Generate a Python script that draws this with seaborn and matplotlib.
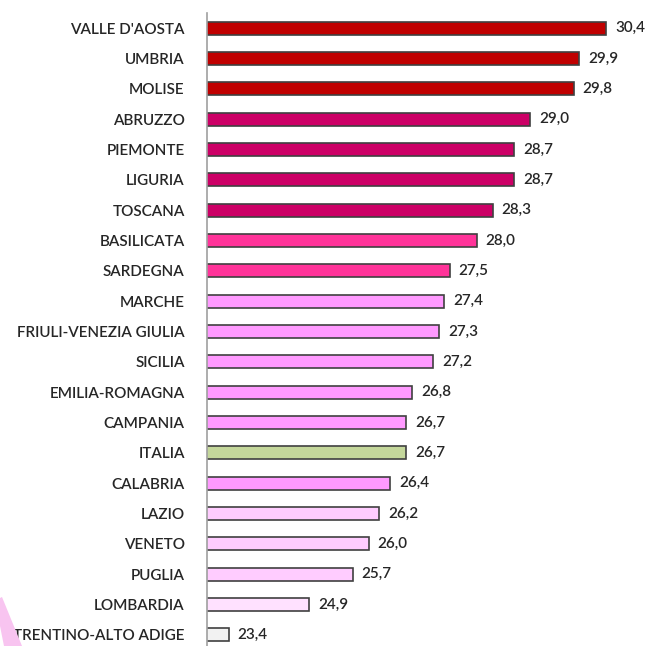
import numpy as np
import pandas as pd
import matplotlib
matplotlib.use("Agg")
import matplotlib.pyplot as plt
from matplotlib.patches import Polygon
import seaborn as sns

regioni = [
    "VALLE D'AOSTA", "UMBRIA", "MOLISE", "ABRUZZO", "PIEMONTE", "LIGURIA",
    "TOSCANA", "BASILICATA", "SARDEGNA", "MARCHE", "FRIULI-VENEZIA GIULIA",
    "SICILIA", "EMILIA-ROMAGNA", "CAMPANIA", "ITALIA", "CALABRIA", "LAZIO",
    "VENETO", "PUGLIA", "LOMBARDIA", "TRENTINO-ALTO ADIGE",
]
valori = [30.4, 29.9, 29.8, 29.0, 28.7, 28.7, 28.3, 28.0, 27.5, 27.4, 27.3,
          27.2, 26.8, 26.7, 26.7, 26.4, 26.2, 26.0, 25.7, 24.9, 23.4]
colori = [
    "#C00000", "#C00000", "#C00000",
    "#CC0066", "#CC0066", "#CC0066", "#CC0066",
    "#FF3399", "#FF3399",
    "#FF99FF", "#FF99FF", "#FF99FF", "#FF99FF", "#FF99FF",
    "#C4D79B",
    "#FF99FF",
    "#FFCCFF", "#FFCCFF", "#FFCCFF",
    "#FFE1FF",
    "#F2F2F2",
]

df = pd.DataFrame({"regione": regioni, "valore": valori})
palette = dict(zip(regioni, colori))

sns.set_style("white")
plt.rcParams["font.family"] = ["Lato", "DejaVu Sans"]

fig = plt.figure(figsize=(6.49, 6.46), dpi=100)
ax = fig.add_axes([207 / 649, -4 / 646, 1 - 207 / 649, 637 / 646])

sns.barplot(data=df, y="regione", x="valore", hue="regione", palette=palette,
            legend=False, width=0.43, edgecolor="#404040", linewidth=1.2,
            saturation=1, ax=ax)

ax.set_xlim(23, 31.2)
ax.set_ylim(len(regioni) - 0.5, -0.5)
ax.set_xlabel("")
ax.set_ylabel("")
ax.set_xticks([])

for s in ["top", "right", "bottom"]:
    ax.spines[s].set_visible(False)
ax.spines["left"].set_color("#A0A0A0")
ax.spines["left"].set_linewidth(1.2)

ax.set_yticks(np.arange(len(regioni)))
ax.set_yticklabels(regioni, fontsize=11, color="#262626", fontweight="semibold")
ax.tick_params(axis="y", which="major", length=0, pad=16)
ax.set_yticks(np.arange(len(regioni) + 1) - 0.5, minor=True)
ax.tick_params(axis="y", which="minor", length=5, width=1.2, color="#A0A0A0",
               direction="out")

for cont in ax.containers:
    ax.bar_label(cont, labels=[f"{v:.1f}".replace(".", ",") for v in cont.datavalues],
                 padding=6.5, fontsize=11, color="#262626", fontweight="semibold")

# decorative pink stripe in the lower-left corner
fig.patches.append(Polygon([(0, 48 / 646), (2 / 649, 49 / 646), (22 / 649, 0),
                            (4 / 649, 0), (0, 20 / 646)],
                           closed=True, transform=fig.transFigure,
                           facecolor="#F8C4F0", edgecolor="none"))

fig.savefig("out.png", dpi=100)
